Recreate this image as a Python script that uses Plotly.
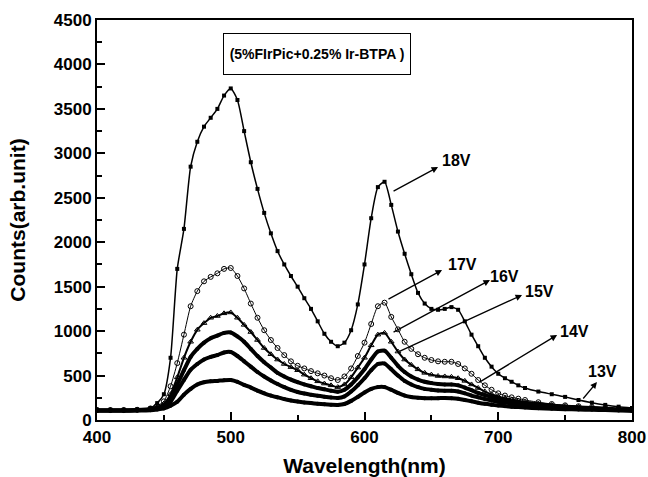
"""EL spectra of the FIrPic / Ir-BTPA device at different driving voltages."""

import plotly.graph_objects as go

wavelength = [400, 410, 420, 430, 440, 445, 450, 455, 460, 465, 470, 475, 480, 485, 490,
              495, 500, 505, 510, 515, 520, 525, 530, 535, 540, 545, 550, 555, 560, 565,
              570, 575, 580, 585, 590, 595, 600, 605, 610, 615, 620, 625, 630, 635, 640,
              645, 650, 655, 660, 665, 670, 675, 680, 685, 690, 695, 700, 705, 710, 715,
              720, 730, 740, 750, 760, 770, 780, 790, 800]

v18 = [115, 115, 115, 118, 135, 190, 290, 700, 1700, 2150, 2850, 3130, 3300, 3400, 3500,
       3650, 3730, 3600, 3250, 2900, 2600, 2330, 2100, 1900, 1750, 1620, 1500, 1370, 1250, 1110,
       970, 880, 830, 870, 1010, 1300, 1750, 2270, 2620, 2680, 2420, 2120, 1870, 1640, 1430,
       1310, 1250, 1240, 1250, 1270, 1240, 1110, 960, 830, 700, 600, 520, 470, 430, 390,
       360, 320, 290, 260, 225, 195, 170, 150, 135]

v17 = [112, 112, 112, 115, 130, 160, 210, 380, 640, 960, 1280, 1450, 1560, 1610, 1650,
       1700, 1710, 1620, 1480, 1310, 1150, 1010, 900, 810, 730, 660, 610, 580, 550, 525,
       500, 470, 450, 490, 580, 720, 870, 1080, 1280, 1320, 1160, 1020, 880, 800, 740,
       700, 675, 660, 655, 655, 630, 580, 520, 450, 390, 340, 300, 275, 255, 240,
       225, 200, 180, 165, 155, 145, 135, 125, 115]

v16 = [112, 112, 112, 114, 125, 145, 185, 290, 480, 700, 880, 1015, 1090, 1150, 1170,
       1200, 1210, 1150, 1070, 990, 900, 810, 740, 680, 630, 595, 560, 510, 470, 435,
       410, 390, 370, 400, 480, 590, 700, 840, 960, 980, 880, 770, 680, 620, 570,
       530, 510, 495, 490, 485, 470, 440, 400, 360, 320, 290, 265, 245, 230, 215,
       205, 185, 170, 158, 148, 138, 130, 120, 112]

v15 = [110, 110, 110, 112, 120, 135, 165, 240, 400, 560, 710, 800, 870, 920, 950,
       980, 985, 940, 880, 800, 720, 650, 590, 530, 490, 455, 425, 400, 380, 360,
       345, 330, 318, 340, 400, 480, 570, 680, 770, 780, 700, 610, 540, 490, 455,
       430, 415, 405, 400, 400, 390, 365, 335, 305, 280, 260, 240, 225, 210, 200,
       190, 175, 162, 150, 142, 135, 127, 118, 110]

v14 = [108, 108, 108, 110, 117, 128, 150, 205, 330, 450, 565, 630, 680, 710, 730,
       760, 765, 720, 660, 600, 540, 490, 445, 405, 370, 340, 315, 298, 285, 272,
       262, 253, 247, 265, 320, 390, 470, 560, 630, 635, 570, 500, 440, 400, 370,
       350, 340, 332, 330, 330, 320, 300, 275, 255, 235, 220, 205, 195, 185, 178,
       170, 160, 150, 142, 135, 130, 123, 116, 108]

v13 = [105, 105, 105, 106, 110, 118, 130, 160, 205, 285, 350, 400, 425, 435, 440,
       448, 450, 430, 395, 365, 330, 300, 275, 255, 235, 220, 208, 198, 190, 182,
       176, 172, 170, 180, 215, 260, 310, 350, 370, 370, 340, 305, 275, 258, 250,
       245, 245, 245, 248, 245, 238, 225, 210, 195, 182, 172, 163, 156, 150, 145,
       140, 133, 127, 122, 118, 115, 112, 108, 105]

# label, arrow tail (on curve), arrow head, text position
labels = ['18V', '17V', '16V', '15V', '14V', '13V']
tail_x = [620.6, 616.8, 620.6, 625.0, 684.9, 762.6]
tail_y = [2565, 1350, 979, 765, 416, 225]
head_x = [655.0, 658.0, 693.8, 717.8, 744.0, 773.8]
head_y = [2846, 1687, 1575, 1406, 956, 427]
text_x = [669, 673, 705, 731, 757, 778]
text_y = [2914, 1755, 1609, 1451, 1001, 551]

box_text = '(5%FIrPic+0.25% Ir-BTPA )'

FONT = 'Liberation Sans, Arial, sans-serif'

fig = go.Figure()

styles = [
    (v18, dict(symbol='square', size=4, color='black'), 1.5),
    (v17, dict(symbol='circle-open', size=5, color='black', line=dict(width=1)), 1),
    (v16, dict(symbol='triangle-up-open', size=5, color='black', line=dict(width=1)), 2),
    (v15, dict(symbol='circle', size=4, color='black'), 4),
    (v14, dict(symbol='circle', size=4, color='black'), 4),
    (v13, dict(symbol='circle', size=4, color='black'), 4),
]
for name, (vals, marker, lw) in zip(labels, styles):
    fig.add_trace(go.Scatter(
        x=wavelength, y=vals, name=name, mode='lines+markers',
        line=dict(color='black', width=lw, shape='spline', smoothing=0.6),
        marker=marker, showlegend=False,
    ))

for i, lab in enumerate(labels):
    fig.add_annotation(x=head_x[i], y=head_y[i], ax=tail_x[i], ay=tail_y[i],
                       axref='x', ayref='y', text='', showarrow=True,
                       arrowhead=2, arrowsize=1, arrowwidth=1.3, arrowcolor='black')
    fig.add_annotation(x=text_x[i], y=text_y[i], text=lab, showarrow=False,
                       font=dict(family=FONT, size=16, color='black', weight='bold'))

fig.add_annotation(x=564.5, y=4117, text=box_text, showarrow=False,
                   width=176, height=30,
                   font=dict(family=FONT, size=14, color='black', weight='bold'),
                   bordercolor='black', borderwidth=1, borderpad=5, bgcolor='white')

axis_common = dict(
    showline=True, linecolor='black', linewidth=2, mirror=True,
    ticks='inside', ticklen=8, tickwidth=2, tickcolor='black',
    showgrid=False, zeroline=False, automargin=False,
    tickfont=dict(family=FONT, size=17, color='black', weight='bold'),
)

fig.update_xaxes(range=[400, 800], dtick=100, ticklabelstandoff=1, **axis_common,
                 minor=dict(ticks='inside', ticklen=5, tickwidth=2, dtick=50, tickcolor='black'),
                 title=dict(text='Wavelength(nm)', standoff=22,
                            font=dict(family=FONT, size=21, color='black', weight='bold')))
fig.update_yaxes(range=[0, 4500], dtick=500, **axis_common,
                 minor=dict(ticks='inside', ticklen=5, tickwidth=2, dtick=250, tickcolor='black'),
                 title=dict(text='Counts(arb.unit)', standoff=22,
                            font=dict(family=FONT, size=21, color='black', weight='bold')))

fig.update_layout(
    width=648, height=477,
    margin=dict(l=97, r=16, t=20, b=57),
    plot_bgcolor='white', paper_bgcolor='white',
)

# drop the default page margin so the figure fills the window exactly
fig.write_html('out.html', config={'displayModeBar': False},
               post_script="document.body.style.margin='0';")
